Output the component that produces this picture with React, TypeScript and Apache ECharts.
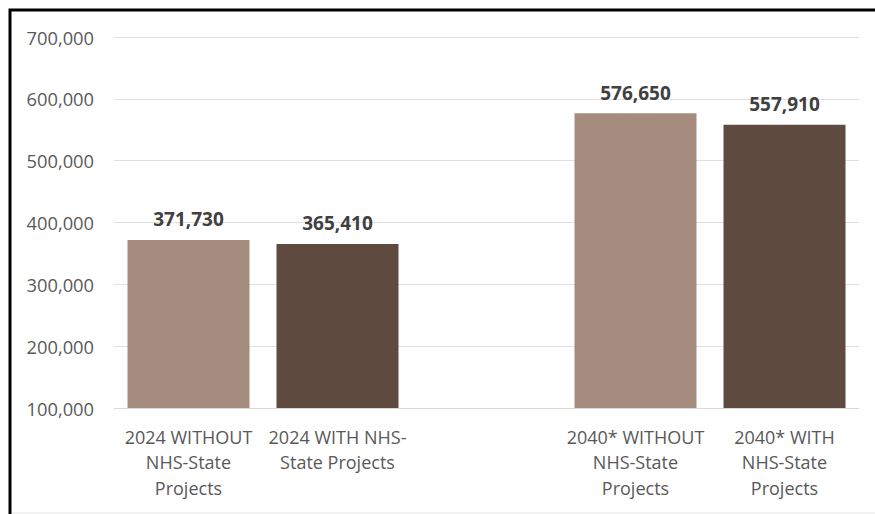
import React, { useEffect, useRef } from "react";
import * as echarts from "echarts";

const categories = [
  "2024 WITHOUT\nNHS-State\nProjects",
  "2024 WITH NHS-\nState Projects",
  "",
  "2040* WITHOUT\nNHS-State\nProjects",
  "2040* WITH\nNHS-State\nProjects",
];
const values: (number | null)[] = [371730, 365410, null, 576650, 557910];
const barColors = ["#A68C7E", "#5E4A3E", "#A68C7E", "#A68C7E", "#5E4A3E"];
const yMin = 100000;
const yMax = 700000;
const yInterval = 100000;

export default function App() {
  const ref = useRef<HTMLDivElement>(null);
  useEffect(() => {
    const chart = echarts.init(ref.current!, null, { renderer: "svg" });
    const font = "'Open Sans', 'Noto Sans', sans-serif";
    chart.setOption({
      animation: false,
      backgroundColor: "#ffffff",
      graphic: [
        {
          type: "rect",
          shape: { x: 10, y: 10, width: 900, height: 700 },
          style: { fill: "none", stroke: "#000000", lineWidth: 3 },
          silent: true,
        },
        {
          type: "line",
          shape: { x1: 12, y1: 513, x2: 875, y2: 513 },
          style: { stroke: "#e6e6e6", lineWidth: 1 },
          silent: true,
        },
      ],
      grid: { left: 114, right: 16, top: 37, bottom: 106, containLabel: false },
      xAxis: {
        type: "category",
        data: categories,
        axisLine: { show: true, lineStyle: { color: "#d9d9d9", width: 1 } },
        axisTick: { show: false },
        axisLabel: {
          color: "#595959",
          fontFamily: font,
          fontSize: 18,
          lineHeight: 25.5,
          margin: 16,
          interval: 0,
        },
      },
      yAxis: {
        type: "value",
        min: yMin,
        max: yMax,
        interval: yInterval,
        axisLine: { show: false },
        axisTick: { show: false },
        splitLine: { lineStyle: { color: "#e0e0e0", width: 1 } },
        axisLabel: {
          color: "#595959",
          fontFamily: font,
          fontSize: 18.3,
          margin: 20,
          formatter: (v: number) => v.toLocaleString("en-US"),
        },
      },
      series: [
        {
          type: "bar",
          barWidth: 122,
          data: values.map((v, i) => ({
            value: v,
            itemStyle: { color: barColors[i] },
          })),
          label: {
            show: true,
            position: "top",
            distance: 11,
            color: "#404040",
            fontFamily: font,
            fontWeight: "bold",
            fontSize: 19,
            formatter: (p: any) =>
              p.value == null ? "" : Number(p.value).toLocaleString("en-US"),
          },
        },
      ],
    });
    return () => chart.dispose();
  }, []);
  return (
    <div
      ref={ref}
      style={{ position: "fixed", left: 0, top: 0, width: 875, height: 514 }}
    />
  );
}
